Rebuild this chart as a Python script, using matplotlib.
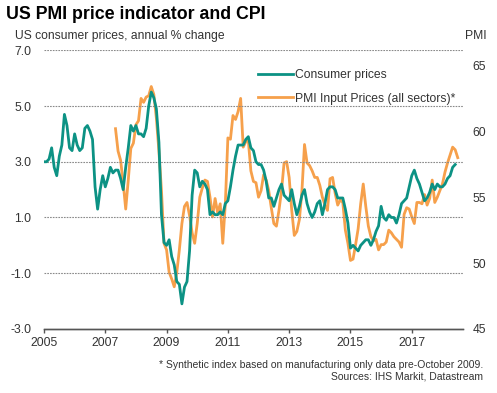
import numpy as np
import matplotlib
matplotlib.use("Agg")
import matplotlib.pyplot as plt


TEAL = "#0c9284"
ORANGE = "#f6a04b"
TEXT = "#333333"

plt.rcParams["font.family"] = ["Liberation Sans", "DejaVu Sans"]

# US consumer prices, annual % change, monthly Jan 2005 - Jun 2018
cpi_2005 = [3.0, 3.0, 3.1, 3.5, 2.8, 2.5, 3.2, 3.6, 4.7, 4.3, 3.5, 3.4]
cpi_2006 = [4.0, 3.6, 3.4, 3.5, 4.2, 4.3, 4.1, 3.8, 2.1, 1.3, 2.0, 2.5]
cpi_2007 = [2.1, 2.4, 2.8, 2.6, 2.7, 2.7, 2.4, 2.0, 2.8, 3.5, 4.3, 4.1]
cpi_2008 = [4.3, 4.0, 4.0, 3.9, 4.2, 5.0, 5.5, 5.3, 4.9, 3.7, 1.1, 0.1]
cpi_2009 = [0.0, 0.2, -0.4, -0.7, -1.3, -1.4, -2.1, -1.5, -1.3, -0.2, 1.8, 2.7]
cpi_2010 = [2.6, 2.1, 2.3, 2.2, 2.0, 1.1, 1.2, 1.1, 1.1, 1.2, 1.1, 1.5]
cpi_2011 = [1.6, 2.1, 2.7, 3.2, 3.6, 3.6, 3.6, 3.8, 3.9, 3.5, 3.4, 3.0]
cpi_2012 = [2.9, 2.9, 2.7, 2.3, 1.7, 1.7, 1.4, 1.7, 2.0, 2.2, 1.8, 1.7]
cpi_2013 = [1.6, 2.0, 1.5, 1.1, 1.4, 1.8, 2.0, 1.5, 1.2, 1.0, 1.2, 1.5]
cpi_2014 = [1.6, 1.1, 1.5, 2.0, 2.1, 2.1, 2.0, 1.7, 1.7, 1.7, 1.3, 0.8]
cpi_2015 = [-0.1, 0.0, -0.1, -0.2, 0.0, 0.1, 0.2, 0.2, 0.0, 0.2, 0.5, 0.7]
cpi_2016 = [1.4, 1.0, 0.9, 1.1, 1.0, 1.0, 0.8, 1.1, 1.5, 1.6, 1.7, 2.1]
cpi_2017 = [2.5, 2.7, 2.4, 2.2, 1.9, 1.6, 1.7, 1.9, 2.2, 2.0, 2.2, 2.1]
cpi_2018 = [2.1, 2.2, 2.4, 2.5, 2.8, 2.9]

# PMI input prices (all sectors), monthly May 2007 - Jul 2018
pmi_2007 = [60.2, 58.5, 57.8, 56.1, 54.1, 56.3, 58.7, 59.1]
pmi_2008 = [60.5, 60.8, 62.5, 62.2, 62.6, 62.7, 63.4, 62.8, 61.0, 58.5, 55.5, 51.5]
pmi_2009 = [51.0, 49.3, 48.8, 48.2, 49.3, 51.0, 53.0, 54.3, 54.6, 53.6, 52.3, 51.5]
pmi_2010 = [53.0, 55.0, 55.7, 56.3, 56.2, 55.0, 53.5, 54.9, 53.8, 54.5, 51.5, 54.5]
pmi_2011 = [59.5, 59.4, 61.2, 60.9, 61.5, 62.5, 58.8, 59.2, 59.3, 57.0, 56.2, 56.1]
pmi_2012 = [55.0, 55.5, 56.7, 56.3, 55.5, 54.2, 53.0, 52.8, 54.0, 55.5, 57.6, 57.7]
pmi_2013 = [56.5, 54.0, 52.1, 52.4, 53.3, 55.5, 59.0, 57.6, 57.4, 57.0, 56.5, 56.5]
pmi_2014 = [55.9, 55.0, 54.4, 54.0, 56.4, 56.5, 55.3, 54.4, 54.8, 54.6, 52.5, 51.5]
pmi_2015 = [50.2, 50.3, 51.4, 52.6, 54.5, 56.0, 54.3, 52.8, 52.0, 51.7, 51.8, 51.0]
pmi_2016 = [51.4, 51.4, 51.6, 52.5, 52.3, 52.0, 51.8, 51.6, 51.2, 53.7, 54.2, 54.1]
pmi_2017 = [53.5, 53.0, 54.6, 54.6, 54.5, 55.2, 54.4, 54.9, 56.3, 54.6, 55.0, 55.5]
pmi_2018 = [56.0, 56.9, 57.6, 58.2, 58.8, 58.6, 58.0]

cpi = (cpi_2005 + cpi_2006 + cpi_2007 + cpi_2008 + cpi_2009 + cpi_2010 + cpi_2011
       + cpi_2012 + cpi_2013 + cpi_2014 + cpi_2015 + cpi_2016 + cpi_2017 + cpi_2018)
pmi = (pmi_2007 + pmi_2008 + pmi_2009 + pmi_2010 + pmi_2011 + pmi_2012 + pmi_2013
       + pmi_2014 + pmi_2015 + pmi_2016 + pmi_2017 + pmi_2018)

cpi_dates = 2005 + np.arange(len(cpi)) / 12
pmi_dates = 2007 + 4 / 12 + np.arange(len(pmi)) / 12

left_ticks = [-3.0, -1.0, 1.0, 3.0, 5.0, 7.0]
right_ticks = [45, 50, 55, 60, 65]
year_ticks = [2005, 2007, 2009, 2011, 2013, 2015, 2017]

fig = plt.figure(figsize=(4.97, 3.93), dpi=100)
ax = fig.add_axes([0.0885, 0.163, 0.843, 0.709])
ax2 = ax.twinx()

for y in left_ticks[1:]:
    ax.axhline(y, color="#8a8a8a", lw=0.8, ls=(0, (1.5, 1)), zorder=0)

l1, = ax.plot(cpi_dates, cpi, color=TEAL, lw=2.0, zorder=3, label="Consumer prices")
l2, = ax2.plot(pmi_dates, pmi, color=ORANGE, lw=2.0, zorder=2,
               label="PMI Input Prices (all sectors)*")
ax.set_zorder(ax2.get_zorder() + 1)
ax.patch.set_visible(False)

ax.set_xlim(2005, 2018.67)
ax.set_ylim(-3, 7)
ax2.set_ylim(45, 66.15)

ax.set_yticks(left_ticks)
ax.set_yticklabels([f"{v:.1f}" for v in left_ticks])
ax2.set_yticks(right_ticks)
ax.set_xticks(year_ticks)
ax.set_xticklabels([str(y) for y in year_ticks])

for a in (ax, ax2):
    for s in ("top", "left", "right"):
        a.spines[s].set_visible(False)
    a.spines["bottom"].set_color("#555555")
    a.spines["bottom"].set_linewidth(1.0)

ax.tick_params(axis="y", length=0, pad=9, labelsize=8.7, labelcolor=TEXT)
ax2.tick_params(axis="y", length=0, pad=7, labelsize=8.7, labelcolor=TEXT)
ax.tick_params(axis="x", length=3, width=1, color="#555555", pad=3,
               labelsize=8.7, labelcolor=TEXT)

leg = ax.legend(handles=[l1, l2], loc="upper left", bbox_to_anchor=(0.5, 0.95),
                frameon=False, fontsize=8.7, handlelength=2.9, handletextpad=0.1,
                labelspacing=0.95, borderaxespad=0)
for t in leg.get_texts():
    t.set_color(TEXT)

fig.text(0.012, 0.962, "US PMI price indicator and CPI", fontsize=12.8,
         fontweight="bold", color="black", va="center")
fig.text(0.03, 0.908, "US consumer prices, annual % change", fontsize=8.7,
         color=TEXT, va="center")
fig.text(0.98, 0.908, "PMI", fontsize=8.7, color=TEXT, va="center", ha="right")
fig.text(0.972, 0.072, "* Synthetic index based on manufacturing only data pre-October 2009.",
         fontsize=7.5, color=TEXT, ha="right", va="center")
fig.text(0.972, 0.043, "Sources: IHS Markit, Datastream",
         fontsize=7.5, color=TEXT, ha="right", va="center")

fig.savefig("out.png", dpi=100)
